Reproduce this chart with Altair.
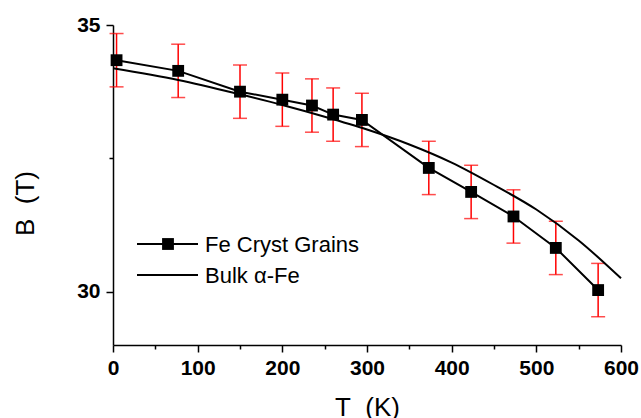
import altair as alt
import pandas as pd

# ---- data ----
fe_T = [4.2, 77, 150, 200, 235, 260, 294, 373, 423, 473, 523, 573]
fe_B = [34.34, 34.14, 33.75, 33.60, 33.49, 33.32, 33.22, 32.32, 31.87, 31.41, 30.82, 30.03]
fe_err = [0.5, 0.5, 0.5, 0.5, 0.5, 0.5, 0.5, 0.5, 0.5, 0.5, 0.5, 0.5]

bulk_T = [0, 77, 150, 200, 250, 300, 350, 400, 450, 500, 550, 600]
bulk_B = [34.19, 33.97, 33.70, 33.50, 33.28, 33.04, 32.76, 32.42, 32.00, 31.54, 30.96, 30.25]

x_major = [0, 100, 200, 300, 400, 500, 600]
x_minor = [50, 150, 250, 350, 450, 550]
y_major = [30, 35]
y_minor = [32.5]
legend_labels = ["Fe Cryst Grains", "Bulk \u03b1-Fe"]

# ---- tables ----
fe = pd.DataFrame({
    "T": fe_T,
    "B": fe_B,
    "lo": [b - e for b, e in zip(fe_B, fe_err)],
    "hi": [b + e for b, e in zip(fe_B, fe_err)],
})
bulk = pd.DataFrame({"T": bulk_T, "B": bulk_B})
legend_df = pd.DataFrame({"label": legend_labels})

FONT = "Liberation Sans"
xscale = alt.Scale(domain=[0, 600], nice=False, zero=False)
yscale = alt.Scale(domain=[29, 35], nice=False, zero=False)

x_axis = alt.Axis(
    orient="bottom", values=x_major, title="T\u00a0\u00a0(K)", grid=False,
    titleFont=FONT, titleFontSize=26, titleFontWeight="normal", titleColor="black",
    titleY=70, titleBaseline="alphabetic",
    labelFont=FONT, labelFontSize=21, labelFontWeight="bold", labelColor="black",
    labelPadding=5, labelFlush=False, labelOverlap=False,
    tickSize=7, tickWidth=1.5, tickColor="black",
    domainColor="black", domainWidth=1.5,
)
x_minor_axis = alt.Axis(
    orient="bottom", values=x_minor, title=None, labels=False, domain=False, grid=False,
    tickSize=4, tickWidth=1.5, tickColor="black",
)
y_axis = alt.Axis(
    orient="left", values=y_major, title="B\u00a0\u00a0(T)", grid=False,
    titleFont=FONT, titleFontSize=26, titleFontWeight="normal", titleColor="black",
    titleX=-80, titleY=178, titleAngle=270, titleAlign="center", titleBaseline="alphabetic",
    labelFont=FONT, labelFontSize=21, labelFontWeight="bold", labelColor="black",
    labelPadding=6, labelFlush=False, labelOverlap=False,
    tickSize=7, tickWidth=1.5, tickColor="black",
    domainColor="black", domainWidth=1.5,
)
y_minor_axis = alt.Axis(
    orient="left", values=y_minor, title=None, labels=False, domain=False, grid=False,
    tickSize=4, tickWidth=1.5, tickColor="black",
)

def X(ax, field="T:Q"):
    return alt.X(field, scale=xscale, axis=ax)

def Y(ax, field="B:Q"):
    return alt.Y(field, scale=yscale, axis=ax)

err_rule = alt.Chart(fe).mark_rule(color="#ff0000", strokeWidth=1.5).encode(
    x=X(None), y=Y(None, "lo:Q"), y2="hi:Q"
)
cap_lo = alt.Chart(fe).mark_tick(color="#ff0000", orient="horizontal", size=14, thickness=1.5).encode(
    x=X(None), y=Y(None, "lo:Q")
)
cap_hi = alt.Chart(fe).mark_tick(color="#ff0000", orient="horizontal", size=14, thickness=1.5).encode(
    x=X(None), y=Y(None, "hi:Q")
)
bulk_line = alt.Chart(bulk).mark_line(color="black", strokeWidth=2, interpolate="monotone").encode(
    x=X(x_minor_axis), y=Y(y_minor_axis)
)
fe_line = alt.Chart(fe).mark_line(color="black", strokeWidth=2).encode(
    x=X(x_axis), y=Y(y_axis)
)
fe_pts = alt.Chart(fe).mark_square(color="black", size=140, opacity=1).encode(
    x=X(None), y=Y(None)
)

# ---- legend (drawn inside the plot) ----
def legend_row(i, ypix, with_square):
    base = alt.Chart(legend_df).transform_filter(alt.datum.label == legend_labels[i])
    layers = [
        base.mark_rule(color="black", strokeWidth=2).encode(
            x=alt.value(24), x2=alt.value(85), y=alt.value(ypix)
        )
    ]
    if with_square:
        layers.append(
            base.mark_square(color="black", size=140, opacity=1).encode(
                x=alt.value(55), y=alt.value(ypix)
            )
        )
    layers.append(
        base.mark_text(align="left", baseline="middle", font=FONT, fontSize=22, color="black").encode(
            text="label:N", x=alt.value(92), y=alt.value(ypix + 1)
        )
    )
    return layers

legend_layers = legend_row(0, 219, True) + legend_row(1, 250, False)

chart = alt.layer(
    err_rule, cap_lo, cap_hi, bulk_line, fe_line, fe_pts, *legend_layers
).resolve_axis(x="independent", y="independent").properties(
    width=508, height=320,
    autosize=alt.AutoSizeParams(type="none"),
    padding={"left": 113, "top": 25, "right": 20, "bottom": 73},
    background="white",
).configure_view(stroke=None)

chart.save("out.html", embed_options={"renderer": "svg", "actions": False})
